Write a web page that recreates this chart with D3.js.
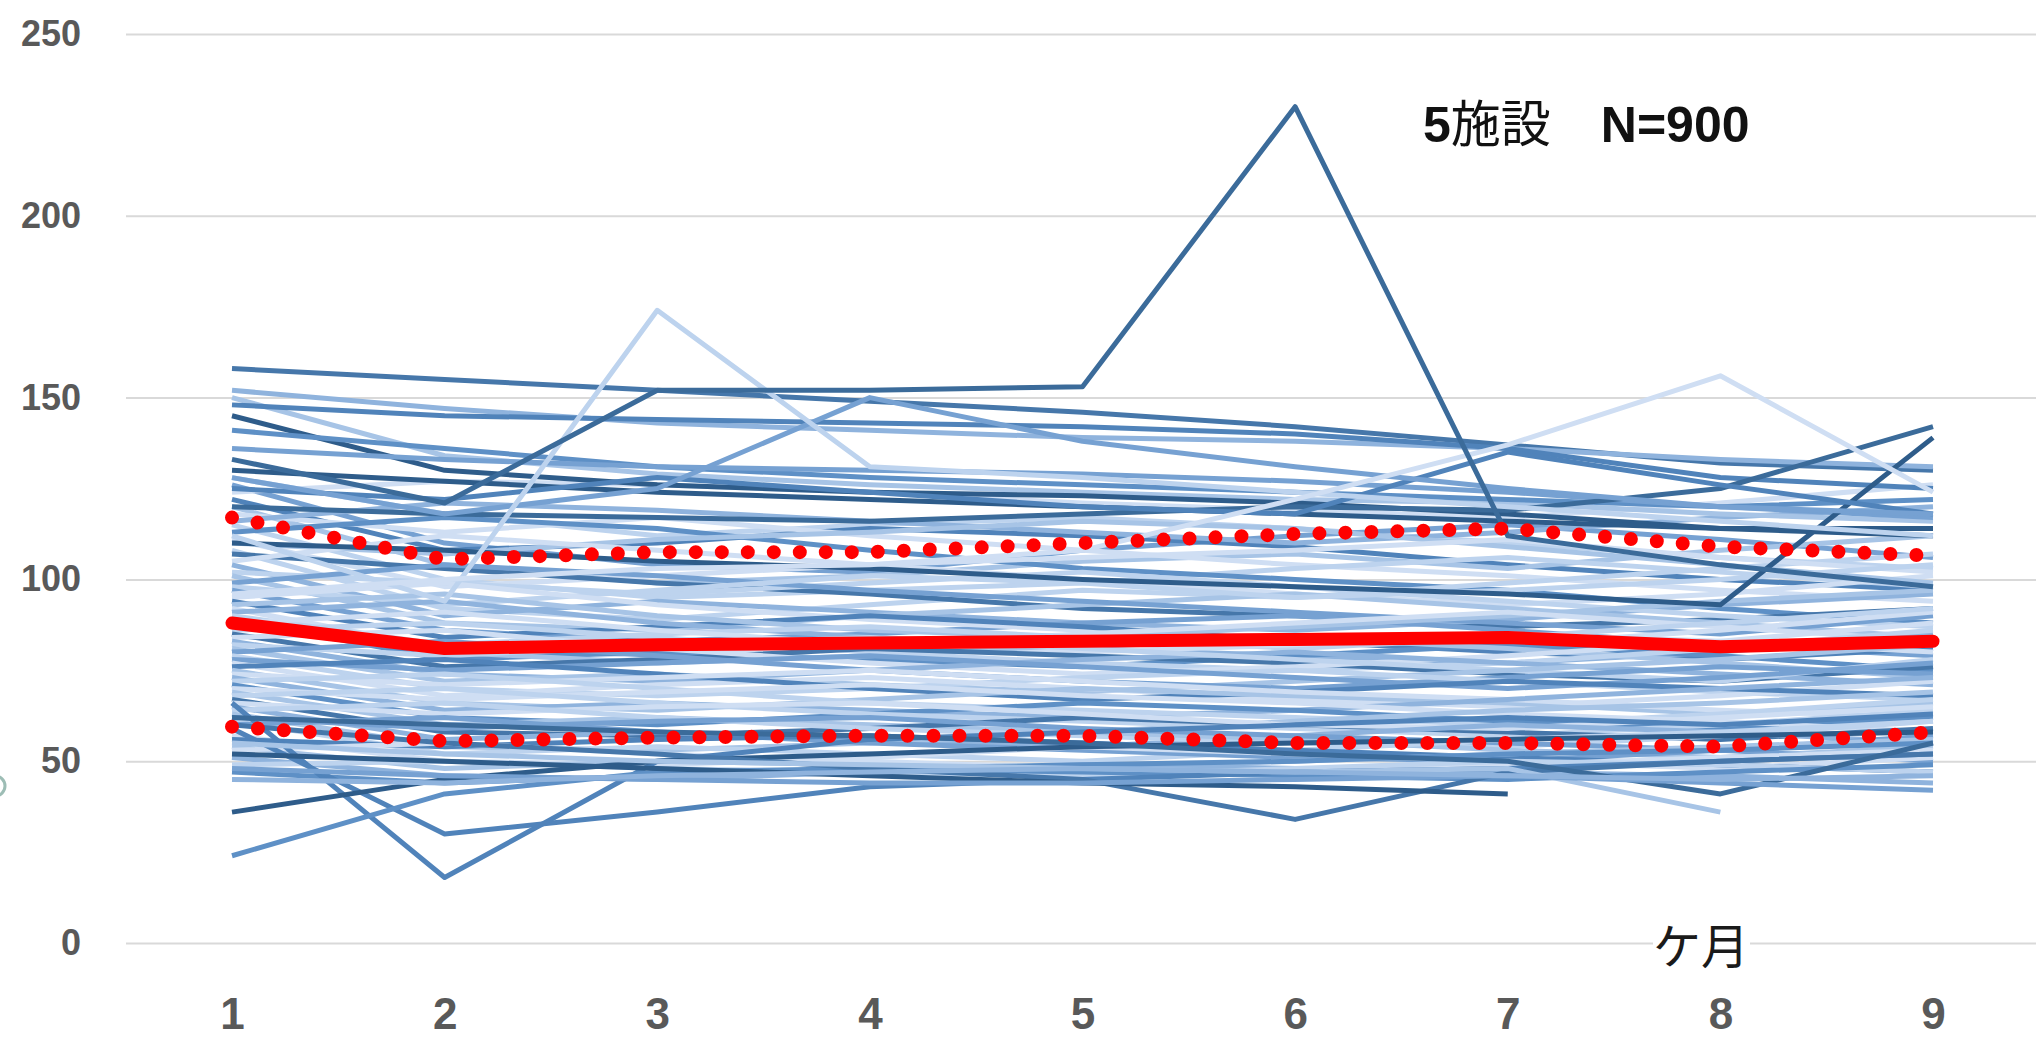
<!DOCTYPE html>
<html>
<head>
<meta charset="utf-8">
<script src="https://cdn.jsdelivr.net/npm/d3@7"></script>
<style>
  html, body { margin: 0; padding: 0; background: #ffffff; overflow: hidden; }
  svg { display: block; }
</style>
</head>
<body>
<svg id="chart" width="2036" height="1040"></svg>
<script>
// ---- data ----------------------------------------------------------------
const months = [1, 2, 3, 4, 5, 6, 7, 8, 9];
const yTicks = [0, 50, 100, 150, 200, 250];
const titleCount = "5";
const titleUnit = "施設";
const titleN = "N=900";
const xUnitLabel = "ケ月";

// individual patient trajectories, one value per month (null = no measurement)
const patientSeries = [
  [128,118,112,115,117,114,110,106,103],
  [126,110,104,102,108,112,115,111,106],
  [124,127,126,124,121,119,117,121,126],
  [122,108,110,114,112,109,104,100,97],
  [120,104,99,101,105,107,103,108,112],
  [118,113,117,112,108,104,101,97,94],
  [116,121,119,116,113,110,113,117,120],
  [115,100,95,97,99,103,106,102,98],
  [113,117,114,108,103,100,97,92,88],
  [111,98,101,104,100,96,93,96,101],
  [110,107,111,113,116,114,109,104,99],
  [108,92,89,93,97,95,99,103,107],
  [107,103,99,96,92,90,87,89,92],
  [105,112,108,104,106,108,111,106,102],
  [104,90,94,91,88,86,89,93,96],
  [102,99,96,99,102,98,94,90,87],
  [101,88,86,90,93,96,92,88,84],
  [99,104,101,97,94,91,88,85,90],
  [98,93,97,101,99,95,97,100,104],
  [97,86,83,85,88,90,86,82,79],
  [95,99,93,89,86,84,82,86,91],
  [94,84,87,90,87,83,80,78,81],
  [93,96,90,86,84,87,90,94,97],
  [92,81,79,82,85,88,91,87,83],
  [91,94,88,84,81,79,77,80,85],
  [90,82,85,87,84,81,84,88,92],
  [89,78,80,78,76,79,82,79,75],
  [88,91,86,82,80,82,85,83,80],
  [87,80,77,79,82,84,81,77,73],
  [86,88,84,80,77,75,77,81,86],
  [85,76,78,81,79,77,74,72,76],
  [84,86,81,77,74,76,79,83,88],
  [83,74,72,75,78,80,77,74,71],
  [82,79,82,84,81,78,75,72,78],
  [81,72,74,71,69,72,75,78,82],
  [80,83,79,75,72,70,73,76,74],
  [79,70,68,70,73,75,72,69,67],
  [78,75,77,79,76,73,70,73,77],
  [77,68,71,73,70,67,65,68,72],
  [76,78,74,70,67,69,72,70,68],
  [75,66,64,67,70,68,66,63,66],
  [74,71,73,75,72,69,67,64,62],
  [73,64,66,64,62,64,67,70,73],
  [72,74,70,66,64,62,60,63,67],
  [71,62,60,63,66,64,61,59,62],
  [70,67,69,71,68,66,63,61,58],
  [69,60,62,60,58,61,64,66,69],
  [68,70,66,63,61,59,57,60,64],
  [67,58,57,59,62,60,58,56,59],
  [66,63,65,66,63,60,59,62,65],
  [65,56,58,56,54,57,60,58,55],
  [64,66,62,59,57,55,54,57,61],
  [63,54,53,55,58,56,53,51,54],
  [62,59,61,62,59,57,55,53,50],
  [61,52,54,52,50,53,56,58,61],
  [60,62,58,55,53,51,50,53,57],
  [57,50,49,51,54,52,50,48,51],
  [56,54,56,57,55,53,51,49,47],
  [54,48,50,49,48,50,52,54,56],
  [53,55,52,50,48,47,49,51,53],
  [51,46,45,47,49,48,47,46,44],
  [49,50,48,47,46,48,50,49,47],
  [47,44,46,48,47,46,45,47,49],
  [158,155,152,149,146,142,137,132,130],
  [152,147,143,141,139,138,136,133,131],
  [150,134,129,126,124,122,121,118,116],
  [148,145,144,143,142,140,136,128,125],
  [145,130,126,124,123,121,118,114,112],
  [141,136,131,128,126,124,122,120,122],
  [136,133,131,130,129,127,124,120,117],
  [130,127,124,122,120,118,116,114,114],
  [120,118,117,116,118,120,119,125,142],
  [110,108,105,103,100,98,96,93,139],
  [125,122,128,124,120,118,135,126,118],
  [128,118,125,150,138,131,125,120,118],
  [66,18,50,56,58,60,62,60,63],
  [59,30,36,43,45,47,48,50,52],
  [24,41,47,48,49,50,52,53,55],
  [36,45,50,52,54,55,56,57,58],
  [60,55,52,48,45,34,47,50,52],
  [52,50,48,46,44,43,41,null,null],
  [55,52,50,49,48,47,48,36,null],
  [62,60,58,57,55,52,50,41,55],
  [48,46,45,44,44,45,46,44,42],
  [45,44,46,47,48,47,46,45,46],
  [112,94,174,131,128,124,120,116,112],
  [96,100,103,104,108,122,137,156,124],
  [133,121,152,152,153,230,112,104,98]
];

// summary lines
const meanSeries  = [88, 81, 82, 82.5, 83, 83.5, 84, 81.5, 83];
const upperSeries = [117, 105.5, 107.5, 107.5, 110, 112.5, 114, 109, 106.5];
const lowerSeries = [59.5, 55.5, 56.5, 57, 57, 55, 55, 54, 58];

// ---- styling -------------------------------------------------------------
const blues = ["#2E5C8A", "#3B6B9A", "#4677AA", "#5083BA", "#5E90C6",
               "#76A1D2", "#8FB3DD", "#A7C4E6", "#BDD3EE", "#CFDEF3"];
const bulkShadeCycle = [8, 5, 9, 3, 7, 9, 6, 8, 4, 9, 7, 8, 2, 9, 6, 8, 7, 5];
const tailShades = [2, 6, 7, 3, 0, 4, 5, 0, 1, 0, 3, 5,
                    3, 3, 4, 0, 2, 0, 7, 1, 5, 6, 8, 9, 1];
const tailStart = patientSeries.length - tailShades.length;
const shadeOf = i => i >= tailStart
  ? blues[tailShades[i - tailStart]]
  : blues[bulkShadeCycle[i % bulkShadeCycle.length]];

const W = 2036, H = 1040;
const plotLeft = 126;
const svg = d3.select("#chart");
svg.append("rect").attr("width", W).attr("height", H).attr("fill", "#ffffff");

const x = d3.scalePoint().domain(months).range([232, 1933]);
const y = d3.scaleLinear().domain([0, 250]).range([943, 34]);

// ---- gridlines + y labels ------------------------------------------------
const yAxis = d3.axisLeft(y).tickValues(yTicks)
  .tickSize(-(W - plotLeft)).tickPadding(45);
const gy = svg.append("g").attr("transform", `translate(${plotLeft},0)`).call(yAxis);
gy.select(".domain").remove();
gy.selectAll(".tick line").attr("stroke", "#D9D9D9").attr("stroke-width", 2);
gy.selectAll(".tick text")
  .attr("fill", "#595959")
  .style("font-family", "'Liberation Sans', Arial, sans-serif")
  .style("font-weight", "bold")
  .style("font-size", "36px");

// ---- x labels ------------------------------------------------------------
const xAxis = d3.axisBottom(x).tickSize(0).tickPadding(55);
const gx = svg.append("g").attr("transform", "translate(0,943)").call(xAxis);
gx.select(".domain").remove();
gx.selectAll(".tick text")
  .attr("fill", "#595959")
  .style("font-family", "'Liberation Sans', Arial, sans-serif")
  .style("font-weight", "bold")
  .style("font-size", "44px");

// unit label sitting on the baseline gridline
const unitG = svg.append("g");
unitG.append("rect").attr("x", 1653).attr("y", 914).attr("width", 97).attr("height", 62)
  .attr("fill", "#ffffff");
unitG.append("text").attr("x", 1701).attr("y", 964).attr("text-anchor", "middle")
  .attr("fill", "#1a1a1a")
  .style("font-family", "'Noto Sans CJK JP', sans-serif")
  .style("font-size", "48px")
  .text(xUnitLabel);

// ---- patient lines -------------------------------------------------------
const line = d3.line()
  .defined(d => d != null)
  .x((d, i) => x(months[i]))
  .y(d => y(d));

svg.append("g").attr("fill", "none")
  .selectAll("path").data(patientSeries).join("path")
  .attr("d", line)
  .attr("stroke", (d, i) => shadeOf(i))
  .attr("stroke-width", 5)
  .attr("stroke-linejoin", "round")
  .attr("stroke-linecap", "butt");

// ---- summary lines -------------------------------------------------------
const summary = svg.append("g").attr("fill", "none");
[upperSeries, lowerSeries].forEach(s => {
  summary.append("path").attr("d", line(s))
    .attr("stroke", "#FF0000").attr("stroke-width", 14)
    .attr("stroke-linecap", "round")
    .attr("stroke-dasharray", "0 26");
});
summary.append("path").attr("d", line(meanSeries))
  .attr("stroke", "#FF0000").attr("stroke-width", 13)
  .attr("stroke-linejoin", "round").attr("stroke-linecap", "round");

// ---- title ---------------------------------------------------------------
const title = svg.append("text").attr("x", 1423).attr("y", 142).attr("fill", "#111111")
  .style("font-size", "50px");
title.append("tspan")
  .style("font-family", "'Liberation Sans', Arial, sans-serif").style("font-weight", "bold")
  .text(titleCount);
title.append("tspan")
  .style("font-family", "'Noto Sans CJK JP', sans-serif").style("font-weight", "normal")
  .text(titleUnit + "\u3000");
title.append("tspan")
  .style("font-family", "'Liberation Sans', Arial, sans-serif").style("font-weight", "bold")
  .text(titleN);

// clipped edge of a mark at the far left
svg.append("circle").attr("cx", -5).attr("cy", 786).attr("r", 10)
  .attr("fill", "none").attr("stroke", "#9DBDB5").attr("stroke-width", 3);
</script>
</body>
</html>
